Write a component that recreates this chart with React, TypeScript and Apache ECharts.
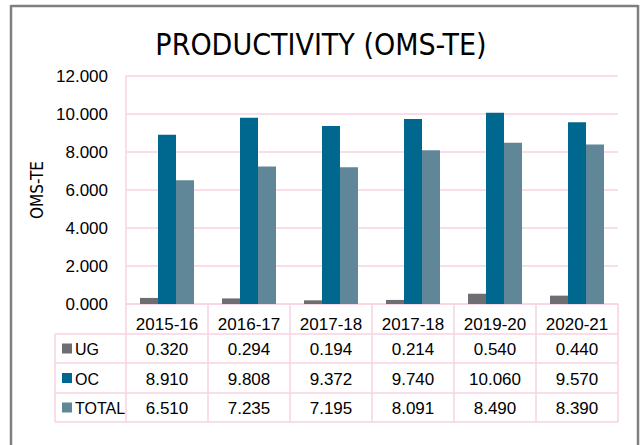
import React, { useEffect, useRef } from "react";
import * as echarts from "echarts";

const categories = ["2015-16", "2016-17", "2017-18", "2017-18", "2019-20", "2020-21"];
const ugValues = [0.32, 0.294, 0.194, 0.214, 0.54, 0.44];
const ocValues = [8.91, 9.808, 9.372, 9.74, 10.06, 9.57];
const totalValues = [6.51, 7.235, 7.195, 8.091, 8.49, 8.39];
const seriesNames = ["UG", "OC", "TOTAL"];
const seriesColors = ["#6d6e71", "#00678f", "#5f8797"];

const W = 642;
const H = 445;
const GRID_LEFT = 126;
const GRID_RIGHT_X = 618;
const GRID_TOP = 76;
const GRID_BOTTOM_Y = 304;
const ROW_Y = [304, 334, 363, 393, 422];
const LEGEND_LEFT = 55;
const PINK = "#f7d3e3";
const FONT = "'Liberation Sans', Arial, sans-serif";
const NARROW = "'DejaVu Sans Condensed', 'Liberation Sans Narrow', sans-serif";

export default function App() {
  const ref = useRef<HTMLDivElement>(null);
  useEffect(() => {
    if (!ref.current) return;
    const chart = echarts.init(ref.current, null, { renderer: "svg" });
    const allValues = [ugValues, ocValues, totalValues];
    const colW = (GRID_RIGHT_X - GRID_LEFT) / categories.length;
    const graphics: any[] = [];
    // outer frame
    const frame = { stroke: "#7f7f7f", lineWidth: 2.5 };
    graphics.push({ type: "line", shape: { x1: 11, y1: 6, x2: 638, y2: 6 }, style: frame });
    graphics.push({ type: "line", shape: { x1: 11, y1: 5, x2: 11, y2: H }, style: frame });
    graphics.push({ type: "line", shape: { x1: 638, y1: 5, x2: 638, y2: H }, style: frame });
    // table horizontal lines
    for (let r = 1; r < ROW_Y.length; r++) {
      graphics.push({
        type: "line",
        shape: { x1: LEGEND_LEFT, y1: ROW_Y[r], x2: GRID_RIGHT_X, y2: ROW_Y[r] },
        style: { stroke: PINK, lineWidth: 1.5 },
      });
    }
    graphics.push({
      type: "line",
      shape: { x1: LEGEND_LEFT, y1: ROW_Y[1], x2: LEGEND_LEFT, y2: ROW_Y[4] },
      style: { stroke: PINK, lineWidth: 1.5 },
    });
    // table rows
    for (let s = 0; s < 3; s++) {
      const yc = (ROW_Y[s + 1] + ROW_Y[s + 2]) / 2;
      graphics.push({
        type: "rect",
        shape: { x: 62, y: yc - 5, width: 10, height: 10 },
        style: { fill: seriesColors[s] },
      });
      graphics.push({
        type: "text",
        x: 75,
        y: yc + 1,
        style: {
          text: seriesNames[s],
          font: `16px ${FONT}`,
          fill: "#000",
          textAlign: "left",
          textVerticalAlign: "middle",
        },
      });
      allValues[s].forEach((v, i) => {
        graphics.push({
          type: "text",
          x: GRID_LEFT + colW * (i + 0.5),
          y: yc + 1,
          style: {
            text: v.toFixed(3),
            font: `17px ${FONT}`,
            fill: "#000",
            textAlign: "center",
            textVerticalAlign: "middle",
          },
        });
      });
    }

    chart.setOption({
      animation: false,
      title: {
        text: "PRODUCTIVITY (OMS-TE)",
        left: "center",
        top: 24,
        textStyle: { fontFamily: NARROW, fontSize: 30, fontWeight: "normal", color: "#000" },
      },
      grid: {
        left: GRID_LEFT,
        right: W - GRID_RIGHT_X,
        top: GRID_TOP,
        bottom: H - GRID_BOTTOM_Y,
        containLabel: false,
      },
      xAxis: {
        type: "category",
        data: categories,
        axisLine: { show: true, lineStyle: { color: PINK, width: 1.5 } },
        axisTick: { show: true, length: ROW_Y[4] - ROW_Y[0], lineStyle: { color: PINK, width: 1.5 } },
        axisLabel: {
          margin: 10,
          fontFamily: FONT,
          fontSize: 17,
          color: "#000",
          lineHeight: 20,
        },
      },
      yAxis: {
        type: "value",
        min: 0,
        max: 12,
        interval: 2,
        name: "OMS-TE",
        nameLocation: "middle",
        nameGap: 58,
        nameRotate: 90,
        nameTextStyle: { fontFamily: NARROW, fontSize: 17, color: "#000" },
        axisLine: { show: true, lineStyle: { color: PINK, width: 1.5 } },
        axisTick: { show: false },
        splitLine: { lineStyle: { color: PINK, width: 1.5 } },
        axisLabel: {
          margin: 18,
          fontFamily: FONT,
          fontSize: 17,
          color: "#000",
          formatter: (v: number) => v.toFixed(3),
        },
      },
      series: seriesNames.map((name, s) => ({
        type: "bar",
        name,
        data: allValues[s],
        barWidth: 18,
        barGap: "0%",
        itemStyle: { color: seriesColors[s] },
      })),
      graphic: graphics,
    });
    return () => chart.dispose();
  }, []);
  return (
    <div style={{ position: "absolute", left: 0, top: 0 }}>
      <div ref={ref} style={{ width: W, height: H }} />
    </div>
  );
}
